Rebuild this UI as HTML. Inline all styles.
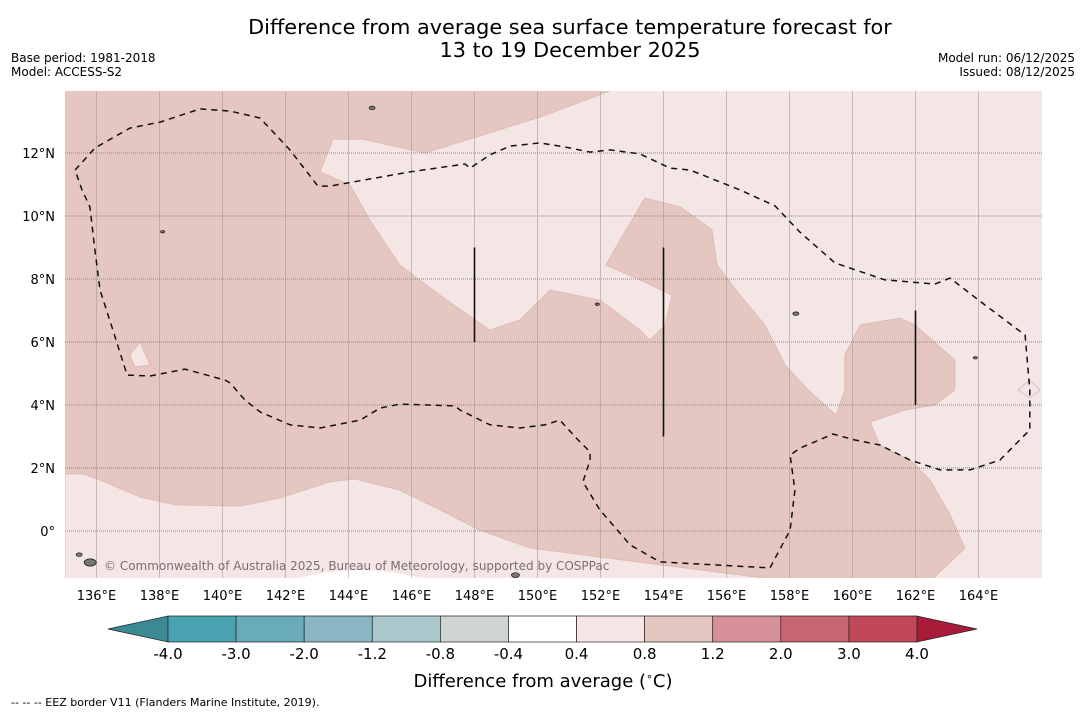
<!DOCTYPE html>
<html><head><meta charset="utf-8"><style>
body{margin:0;background:#fff;width:1085px;height:713px;overflow:hidden;font-family:"Liberation Sans","DejaVu Sans",sans-serif}
svg{position:absolute;left:0;top:0}
</style></head><body>
<svg width="1085" height="713" font-family="DejaVu Sans, Liberation Sans, sans-serif">
<text x="570" y="34" font-size="20.8" text-anchor="middle">Difference from average sea surface temperature forecast for</text>
<text x="570" y="57" font-size="20.8" text-anchor="middle">13 to 19 December 2025</text>
<text x="11" y="62" font-size="12">Base period: 1981-2018</text>
<text x="11" y="76" font-size="12">Model: ACCESS-S2</text>
<text x="1075" y="62" font-size="12" text-anchor="end">Model run: 06/12/2025</text>
<text x="1075" y="76" font-size="12" text-anchor="end">Issued: 08/12/2025</text>
<defs><clipPath id="mc"><rect x="65" y="91" width="977" height="487"/></clipPath></defs>
<g id="map" clip-path="url(#mc)"></g>
<g id="ticks"></g>
<g id="cbar"></g>
<text x="543" y="687" font-size="18" text-anchor="middle">Difference from average (<tspan font-size="11" dy="-7">∘</tspan><tspan dy="7">C)</tspan></text>
<text x="11" y="706" font-size="11">--  --  -- EEZ border V11 (Flanders Marine Institute, 2019).</text>
</svg>
<script>
const lonTicks=[136,138,140,142,144,146,148,150,152,154,156,158,160,162,164];
const latTicks=[0,2,4,6,8,10,12];
const cbBounds=[-4.0,-3.0,-2.0,-1.2,-0.8,-0.4,0.4,0.8,1.2,2.0,3.0,4.0];
const cbColors=["#4aa3b1","#6aabb9","#89b6c2","#a9c8cc","#d0d4d2","#ffffff","#f4e6e4","#e6c6c1","#d6909a","#c86572","#c04858"];
const cbUnder="#3b8a93", cbOver="#a81c3a";
const lightNE=[[153.19,14.3],[150.08,13.14],[146.43,12.0],[144.43,12.44],[143.51,12.44],[143.10,11.40],[144.05,10.98],[144.68,9.87],[145.63,8.44],[146.90,7.49],[148.02,6.70],[148.49,6.38],[149.44,6.70],[150.40,7.65],[151.98,7.33],[153.25,6.38],[153.57,6.06],[154.05,6.54],[154.27,7.49],[153.25,7.97],[152.17,8.44],[152.62,9.24],[153.41,10.57],[154.52,10.29],[155.54,9.56],[155.70,8.44],[156.43,7.49],[157.22,6.54],[157.86,5.27],[158.59,4.48],[159.48,3.68],[159.76,4.48],[159.76,5.59],[160.24,6.54],[161.51,6.76],[161.98,6.54],[163.25,5.43],[163.25,4.48],[162.62,4.0],[161.67,3.84],[160.56,3.46],[160.87,2.73],[161.83,2.25],[162.46,1.62],[163.10,0.51],[163.57,-0.54],[162.46,-1.6],[166.1,-1.6],[166.1,14.3]];
const lightSW=[[135,1.81],[135.57,1.81],[136.11,1.62],[137.38,1.08],[138.49,0.83],[140.56,0.79],[141.83,1.05],[143.41,1.56],[144.21,1.65],[145.63,1.30],[146.90,0.67],[148.17,0.03],[149.76,-0.54],[151.98,-0.83],[158.02,-1.6],[135,-1.6]];
const lightBlob1=[[137.06,5.59],[137.38,6.0],[137.70,5.27],[137.22,5.21]];
const lightBlob2=[[165.25,4.48],[165.63,4.79],[165.95,4.48],[165.63,4.22]];
const eez=[[135.32,11.46],[135.95,12.16],[137.06,12.79],[138.02,12.98],[139.29,13.40],[140.24,13.33],[141.19,13.11],[142.14,12.10],[143.03,10.95],[143.41,10.95],[145.95,11.40],[147.70,11.65],[147.86,11.52],[148.49,11.94],[149.13,12.22],[150.08,12.32],[150.87,12.19],[151.67,12.03],[152.30,12.10],[153.25,11.97],[154.21,11.52],[154.84,11.46],[156.43,10.83],[157.54,10.32],[158.33,9.49],[159.44,8.51],[161.03,7.97],[162.62,7.84],[163.10,8.03],[164.21,7.17],[165.48,6.22],[165.63,4.48],[165.63,3.21],[164.68,2.25],[163.73,1.94],[162.78,1.94],[161.83,2.25],[160.87,2.73],[160.08,2.89],[159.38,3.08],[158.33,2.63],[158.02,2.41],[158.17,1.30],[158.02,0.03],[157.38,-1.17],[153.89,-0.98],[152.94,-0.44],[151.98,0.67],[151.44,1.56],[151.67,2.25],[151.67,2.51],[151.29,2.89],[150.71,3.52],[150.24,3.37],[149.44,3.27],[148.49,3.37],[147.54,3.84],[147.38,3.97],[145.63,4.03],[145.0,3.90],[144.37,3.52],[143.10,3.27],[142.14,3.37],[141.19,3.78],[140.71,4.16],[140.24,4.70],[140.08,4.79],[138.81,5.14],[137.70,4.92],[136.97,4.95],[136.52,6.38],[136.11,7.65],[135.95,8.92],[135.79,10.29],[135.54,10.83],[135.32,11.46]];
const zoneLines=[[148,9,6],[154,9,3],[162,7,4]];
const islands=[[135.8,-1.0,6],[135.45,-0.75,3],[144.75,13.43,3],[158.2,6.9,3],[138.1,9.5,2],[151.9,7.2,2],[163.9,5.5,2],[149.3,-1.4,4]];
const x=lon=>65+(lon-135)*31.5, y=lat=>531-lat*31.5;
const NS='http://www.w3.org/2000/svg';
function mk(p,t,a){const e=document.createElementNS(NS,t);for(const k in a)e.setAttribute(k,a[k]);p.appendChild(e);return e;}
const pts=a=>a.map(p=>x(p[0]).toFixed(1)+','+y(p[1]).toFixed(1)).join(' ');
const map=document.getElementById('map');
let e=mk(map,'rect',{x:65,y:91,width:977,height:487,fill:'#e6c6c1'});


[[lightNE,'anomaly-ne-light-region'],[lightSW,'anomaly-sw-light-region'],[lightBlob1,'light-blob-west'],[lightBlob2,'light-blob-east']].forEach(([d,n])=>{
 const p=mk(map,'polygon',{points:pts(d),fill:'#f4e6e4',stroke:'#dcb7b2','stroke-width':0.8});
 
 
});
e=mk(map,'path',{d:'M300,578 Q360,562 420,578 Z',fill:'#fff'});


lonTicks.forEach(l=>{const g=mk(map,'line',{x1:x(l),x2:x(l),y1:91,y2:578,stroke:'#999',"stroke-width":0.7,opacity:0.8});
 
 });
latTicks.forEach(l=>{const g=mk(map,'line',{x1:65,x2:1042,y1:y(l),y2:y(l),stroke:'#888',"stroke-width":1,"stroke-dasharray":"1,1"});
 
 });
e=mk(map,'polyline',{points:pts(eez),fill:'none',stroke:'#111','stroke-width':1.5,'stroke-dasharray':'6,5'});


zoneLines.forEach(z=>{const l=mk(map,'line',{x1:x(z[0]),x2:x(z[0]),y1:y(z[1]),y2:y(z[2]),stroke:'#111','stroke-width':1.6});
 
 });
islands.forEach(i=>{const c=mk(map,'ellipse',{cx:x(i[0]),cy:y(i[1]),rx:i[2],ry:i[2]*0.6,fill:'#777',stroke:'#111','stroke-width':0.7});
 
 });
e=mk(map,'text',{x:104,y:570,'font-size':12,fill:'#7a6e6e'});
e.textContent='© Commonwealth of Australia 2025, Bureau of Meteorology, supported by COSPPac';


const tk=document.getElementById('ticks');
lonTicks.forEach(l=>{const t=mk(tk,'text',{x:x(l),y:600,'font-size':13,'text-anchor':'middle'});t.textContent=l+'°E';
 
 });
latTicks.forEach(l=>{const t=mk(tk,'text',{x:55,y:y(l)+5,'font-size':13,'text-anchor':'end'});t.textContent=l===0?'0°':l+'°N';
 
 });
const cb=document.getElementById('cbar');
const cx0=168,cx1=917,cy0=616,cy1=642,n=cbColors.length,w=(cx1-cx0)/n;
e=mk(cb,'polygon',{points:`108,629 ${cx0},${cy0} ${cx0},${cy1}`,fill:cbUnder,stroke:'#222','stroke-width':0.7});


e=mk(cb,'polygon',{points:`977,629 ${cx1},${cy0} ${cx1},${cy1}`,fill:cbOver,stroke:'#222','stroke-width':0.7});


cbColors.forEach((c,i)=>{const r=mk(cb,'rect',{x:cx0+i*w,y:cy0,width:w,height:cy1-cy0,fill:c,stroke:'#222','stroke-width':0.7});
 
 });
cbBounds.forEach((b,i)=>{const t=mk(cb,'text',{x:cx0+i*w,y:659,'font-size':15,'text-anchor':'middle'});t.textContent=b.toFixed(1);
 
 });
</script>
</body></html>
